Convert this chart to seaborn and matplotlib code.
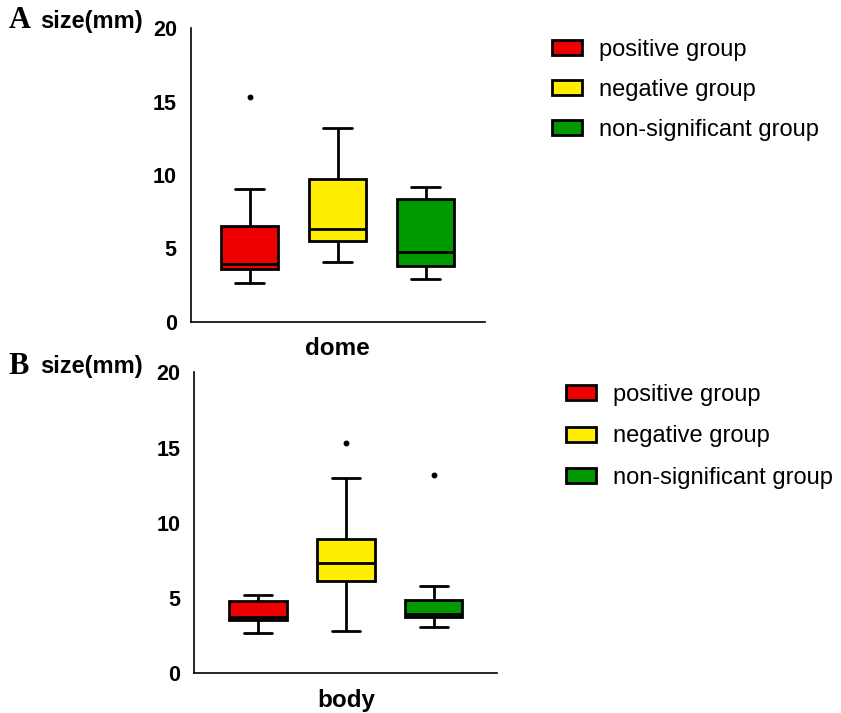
import numpy as np
import pandas as pd
import matplotlib
matplotlib.use("Agg")
import matplotlib.pyplot as plt
from matplotlib.patches import Patch
import seaborn as sns

# ---- data ----
groups = ["positive group", "negative group", "non-significant group"]
colors = ["#EE0000", "#FFEE00", "#009900"]

dome_positive = [2.66, 3.20, 3.57, 3.75, 3.93, 5.20, 6.50, 9.07, 15.30]
dome_negative = [4.05, 5.00, 5.48, 5.90, 6.32, 8.00, 9.73, 11.50, 13.23]
dome_nonsig = [2.89, 3.40, 3.80, 4.30, 4.75, 6.50, 8.36, 8.80, 9.16]

body_positive = [2.66, 3.20, 3.54, 3.65, 3.77, 4.30, 4.78, 5.00, 5.23]
body_negative = [2.83, 5.00, 6.10, 6.80, 7.35, 8.10, 8.90, 13.00, 15.28]
body_nonsig = [3.10, 3.50, 3.77, 3.85, 3.94, 4.40, 4.87, 5.80, 13.18]

yticks = [0, 5, 10, 15, 20]


def make_df(site, vals):
    rows = []
    for g, v in zip(groups, vals):
        for x in v:
            rows.append({"site": site, "group": g, "size": x})
    return pd.DataFrame(rows)


df_dome = make_df("dome", [dome_positive, dome_negative, dome_nonsig])
df_body = make_df("body", [body_positive, body_negative, body_nonsig])

sns.set_style("white")
plt.rcParams["font.family"] = ["Liberation Sans", "DejaVu Sans"]
plt.rcParams["text.color"] = "black"
plt.rcParams["xtick.color"] = "black"
plt.rcParams["ytick.color"] = "black"
plt.rcParams["axes.labelcolor"] = "black"

W, H = 841, 713
fig = plt.figure(figsize=(W / 100, H / 100), dpi=100)


def fx(px):
    return px / W


def fy(py):
    return 1 - py / H


axA = fig.add_axes([fx(190.7), fy(321.7), fx(485 - 190.7), (321.7 - 28.3) / H])
axB = fig.add_axes([fx(194.3), fy(673.3), fx(497 - 194.3), (673.3 - 372.3) / H])

flierprops = dict(marker="o", markerfacecolor="black", markeredgecolor="black",
                  markersize=3.2)

for ax, df, xl in [(axA, df_dome, (-0.445, 0.447)), (axB, df_body, (-0.46, 0.458))]:
    sns.boxplot(data=df, x="site", y="size", hue="group", hue_order=groups,
                palette=colors, saturation=1, linecolor="black", linewidth=2.0,
                width=0.8, gap=0.35, whis=1.5, flierprops=flierprops,
                legend=False, ax=ax)
    ax.set_ylim(0, 20)
    ax.set_xlim(*xl)
    ax.set_yticks(yticks)
    ax.set_xlabel("")
    ax.set_ylabel("")
    for s in ["top", "right"]:
        ax.spines[s].set_visible(False)
    for s in ["left", "bottom"]:
        ax.spines[s].set_linewidth(1.2)
        ax.spines[s].set_color("black")
    ax.tick_params(axis="y", length=8, width=1.2, color="black", labelsize=15.5,
                   pad=2, labelcolor="black")
    ax.tick_params(axis="x", length=0, labelsize=17.5, pad=11, labelcolor="black")
    for lab in ax.get_yticklabels() + ax.get_xticklabels():
        lab.set_fontweight("bold")

# panel letters and y labels
fig.text(fx(8.5), fy(28), "A", family=["Liberation Serif", "DejaVu Serif"],
         fontweight="bold", fontsize=22, va="baseline", ha="left")
fig.text(fx(40), fy(28), "size(mm)", fontweight="bold", fontsize=17,
         va="baseline", ha="left")
fig.text(fx(8.5), fy(373.5), "B", family=["Liberation Serif", "DejaVu Serif"],
         fontweight="bold", fontsize=22, va="baseline", ha="left")
fig.text(fx(40), fy(373.5), "size(mm)", fontweight="bold", fontsize=17,
         va="baseline", ha="left")

handles = [Patch(facecolor=c, edgecolor="black", linewidth=2.0) for c in colors]
leg_kw = dict(frameon=False, fontsize=17, handlelength=1.25, handleheight=0.6,
              handletextpad=0.72, borderpad=0, borderaxespad=0,
              loc="upper left", bbox_transform=fig.transFigure)
fig.legend(handles=handles, labels=groups, bbox_to_anchor=(fx(552), fy(39)),
           labelspacing=0.76, **leg_kw)
fig.legend(handles=handles, labels=groups, bbox_to_anchor=(fx(566), fy(384)),
           labelspacing=0.82, **leg_kw)

fig.savefig("out.png", dpi=100)
